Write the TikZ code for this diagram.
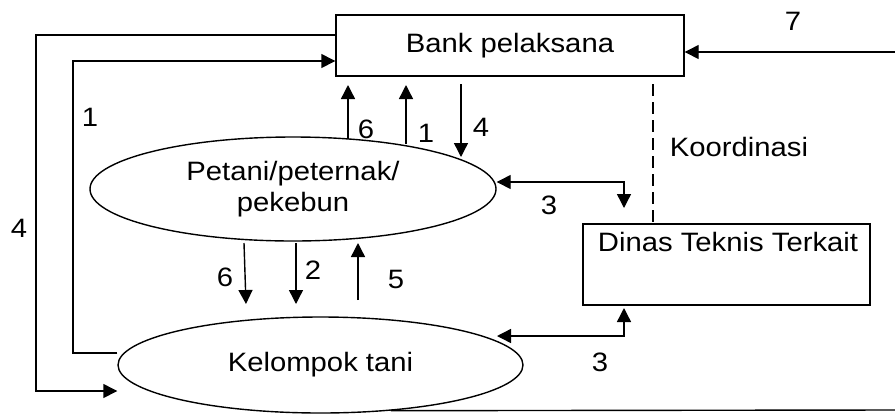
\documentclass[tikz,border=0pt]{standalone}
\usepackage{fontspec}
\setmainfont{Liberation Sans}[FakeStretch=1.1]
\usetikzlibrary{shapes.geometric, arrows.meta}
\tikzstyle{box} = [rectangle, draw=black, line width=0.7pt, inner sep=0]
\tikzstyle{blob} = [ellipse, draw=black, line width=0.7pt, inner sep=0, align=center]
\tikzstyle{arrow} = [line width=0.7pt,-{Triangle[length=7pt,width=7pt]}]
\tikzstyle{twoway} = [line width=0.7pt,{Triangle[length=7pt,width=7pt]}-{Triangle[length=7pt,width=7pt]}]
\tikzstyle{num} = [inner sep=0]
\begin{document}
\begin{tikzpicture}[x=0.5pt,y=-0.5pt,font=\fontsize{13.3}{15.5}\selectfont]
\useasboundingbox (0,0) rectangle (895,414);

% the four parties
\node[box, minimum width=174pt, minimum height=30.5pt] (bank) at (510,45.5) {Bank pelaksana};
\node[blob, minimum width=203pt, minimum height=52pt] (petani) at (293,189) {Petani/peternak/\\pekebun};
\node[blob, minimum width=202.5pt, minimum height=48pt] (kelompok) at (320.5,365) {Kelompok tani};
\node[box, minimum width=143.5pt, minimum height=40.5pt] (dinas) at (726.5,264.5) {};
\node (dinastext) at (728,242) {Dinas Teknis Terkait};

% free ends
\coordinate (e7) at (895,52);
\coordinate (o4a) at (36,35);
\coordinate (o4b) at (36,391);
\coordinate (i1) at (73,61);
\coordinate (up6a) at (348,139);  \coordinate (up6b) at (348,85);
\coordinate (up1a) at (406,144);  \coordinate (up1b) at (406,85);
\coordinate (dn4a) at (461,84);   \coordinate (dn4b) at (461,157);
\coordinate (koor) at (653,84);
\coordinate (d3top) at (624,208);
\coordinate (k3) at (497,336);
\coordinate (d3bot) at (624,308);
\coordinate (dn6a) at (244,243);  \coordinate (dn6b) at (246,304);
\coordinate (dn2a) at (296,243);  \coordinate (dn2b) at (296,304);
\coordinate (up5a) at (358,300);  \coordinate (up5b) at (358,243);
\coordinate (rb) at (895,410);

% outer loops
\draw[arrow] (e7) -- (e7 -| bank.east);
\draw[arrow] (o4a -| bank.west) -- (o4a) -- (o4b) -- (o4b -| kelompok.west);
\draw[arrow] ([yshift=6pt]kelompok.west) -| (i1) -- (i1 -| bank.west);
\draw[line width=0.7pt] (kelompok.-33) -- (rb);

% bank and petani
\draw[arrow] (up6a) -- (up6b);
\draw[arrow] (up1a) -- (up1b);
\draw[arrow] (dn4a) -- (dn4b);
\draw[line width=0.7pt, dash pattern=on 6pt off 3pt] (koor) -- (koor |- dinas.north);

% dinas
\draw[twoway] ([yshift=3.5pt]petani.east) -| (d3top);
\draw[twoway] (k3) -| (d3bot);

% petani and kelompok
\draw[arrow] (dn6a) -- (dn6b);
\draw[arrow] (dn2a) -- (dn2b);
\draw[arrow] (up5a) -- (up5b);

% numbers
\node[num] (n7) at (793,21) {7};
\node[num] (n4out) at (19,228) {4};
\node[num] (n1out) at (90,117) {1};
\node[num] (n6up) at (366,129) {6};
\node[num] (n1up) at (426,133) {1};
\node[num] (n4dn) at (481,127) {4};
\node (koortext) at (739,147) {Koordinasi};
\node[num] (n3top) at (549,205) {3};
\node[num] (n3bot) at (600,362) {3};
\node[num] (n6dn) at (225,277) {6};
\node[num] (n2dn) at (313,270) {2};
\node[num] (n5up) at (396,279) {5};
\end{tikzpicture}
\end{document}
